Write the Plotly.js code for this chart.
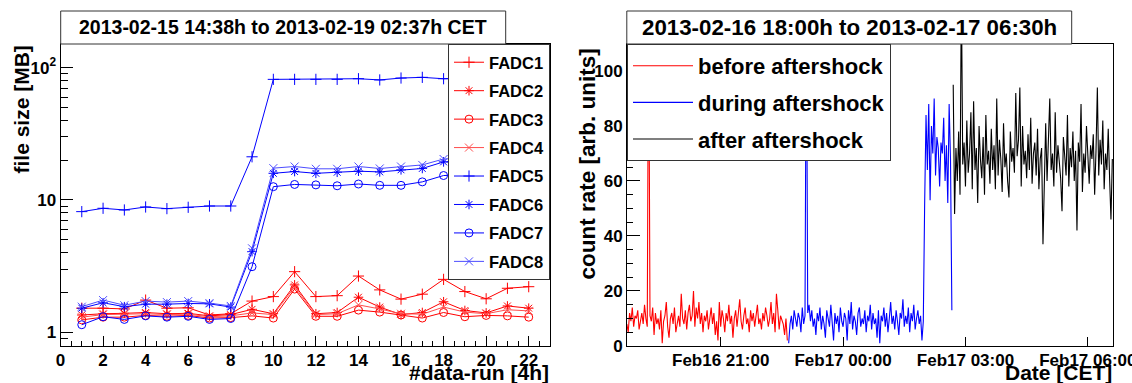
<!DOCTYPE html>
<html><head><meta charset="utf-8">
<script src="https://cdn.plot.ly/plotly-3.0.1.min.js"></script>
<style>html,body{margin:0;padding:0;background:#fff}#plot{width:1132px;height:383px}</style>
</head><body><div id="plot"></div>
<script>
// ---------- Left panel data: file size per 4h data run ----------
const runs = [1,2,3,4,5,6,7,8,9,10,11,12,13,14,15,16,17,18,19,20,21,22];
const fadcNames = ['FADC1','FADC2','FADC3','FADC4','FADC5','FADC6','FADC7','FADC8'];
const fadc1 = [1.52,1.52,1.50,1.75,1.52,1.53,1.35,1.38,1.72,1.86,2.87,1.86,1.89,2.66,2.09,1.78,1.94,2.51,2.03,1.79,2.15,2.21];
const fadc2 = [1.35,1.38,1.39,1.41,1.38,1.39,1.33,1.36,1.49,1.38,2.28,1.38,1.41,1.84,1.55,1.36,1.41,1.70,1.46,1.40,1.58,1.52];
const fadc3 = [1.24,1.30,1.30,1.34,1.32,1.34,1.28,1.29,1.33,1.28,2.12,1.32,1.32,1.47,1.42,1.35,1.28,1.41,1.31,1.34,1.33,1.30];
const fadc4 = [1.30,1.36,1.37,1.38,1.36,1.37,1.31,1.33,1.40,1.36,2.20,1.36,1.38,1.61,1.50,1.38,1.37,1.55,1.42,1.38,1.48,1.45];
const fadc5 = [8.16,8.65,8.40,8.85,8.60,8.80,9.00,9.00,21.2,81.6,81.6,81.6,81.6,82.5,80.8,83.5,84.5,82.5,83.5,84.0,83.0,84.0];
const fadc6 = [1.52,1.67,1.56,1.63,1.63,1.65,1.64,1.55,4.07,15.9,16.4,15.9,16.2,16.5,16.3,16.9,17.3,19.4,19.8,20.0,20.3,20.5];
const fadc7 = [1.14,1.31,1.25,1.33,1.30,1.32,1.25,1.27,3.13,12.6,13.1,13.0,12.8,13.2,12.9,12.9,13.7,15.3,15.5,15.6,15.8,16.0];
const fadc8 = [1.56,1.75,1.60,1.72,1.69,1.72,1.66,1.58,4.31,17.4,17.9,17.2,17.2,17.9,17.3,17.9,18.4,20.4,20.8,21.0,21.2,21.5];
const fadcColors = ['#ff0000','#ff0000','#ff0000','#ff4d4d','#0000ff','#0000ff','#0000ff','#4d4dff'];
const fadcSymbols = ['cross-thin-open','asterisk-open','circle-open','x-thin-open','cross-thin-open','asterisk-open','circle-open','x-thin-open'];

// ---------- Right panel data: count rate, 2-minute bins ----------
const rateStart = '2013-02-16T18:42:00';
const binMinutes = 2;
const rateBefore = [
 8,5,12,9,14,7,11,10,13,6,9,12,8,15,10,7,130,11,9,14,
 4,12,8,10,6,13,1,9,11,16,7,3,10,12,8,14,5,9,11,7,
 19,10,8,13,6,12,15,9,11,20,7,14,10,16,8,12,5,11,9,13,
 6,10,14,8,12,4,9,2,16,7,13,10,5,12,9,15,8,11,3,10,
 13,7,12,17,9,6,11,14,8,10,5,13,9,12,7,11,15,8,10,6,
 12,9,14,11,7,10,16,8,12,5,19,13,6,11,9,8,4,10,2];
const rateDuring = [
 1,8,11,6,13,9,7,12,10,5,14,8,11,130,12,15,9,13,7,10,
 4,12,9,14,6,11,8,3,13,10,7,15,9,2,12,8,11,5,14,9,
 7,12,10,2,13,8,16,6,11,9,4,12,14,7,10,8,13,5,11,9,
 15,6,12,8,10,3,13,1,11,9,14,7,12,5,10,16,8,11,6,13,
 9,4,12,10,17,7,11,8,14,5,12,9,15,6,10,13,8,11,2,9,
 52,84,64,88,53,80,70,90,62,76,72,58,74,70,83,60,73,52,88,68,13];
const rateAfter = [
 95,48,72,60,78,55,130,66,74,58,82,63,70,85,57,89,64,72,52,80,
 68,61,76,55,84,66,71,59,79,64,73,57,90,62,75,68,56,81,65,70,
 60,54,78,67,72,63,92,69,75,94,58,80,66,71,61,77,64,83,59,70,
 74,62,79,57,68,72,37,66,81,60,75,90,64,70,58,85,63,73,67,61,
 49,76,69,62,84,58,72,65,78,60,71,42,74,67,88,56,70,63,80,66,
 59,73,68,77,55,71,94,62,75,66,82,57,70,64,79,61,46,68];
const segNames = ['before aftershock','during aftershock','after aftershock'];
const segColors = ['#ff0000','#0000ff','#000000'];

// ---------- helpers ----------
const W = 1132, H = 383;
const px = x => x / W, py = y => 1 - y / H;
const FONT = 'Liberation Sans, Arial, Helvetica, sans-serif';
const pad2 = n => String(n).padStart(2,'0');
function binTimes(offset, n) {
  const t0 = new Date(rateStart + 'Z').getTime();
  const out = [];
  for (let i = 0; i < n; i++) {
    const d = new Date(t0 + (offset + i) * binMinutes * 60000);
    out.push(d.getUTCFullYear()+'-'+pad2(d.getUTCMonth()+1)+'-'+pad2(d.getUTCDate())+' '+pad2(d.getUTCHours())+':'+pad2(d.getUTCMinutes()));
  }
  return out;
}

const traces = [];
const fadcData = [fadc1,fadc2,fadc3,fadc4,fadc5,fadc6,fadc7,fadc8];
fadcData.forEach((ys, i) => {
  traces.push({
    x: runs, y: ys, type: 'scatter', mode: 'lines+markers', name: fadcNames[i],
    xaxis: 'x', yaxis: 'y', legend: 'legend', legendgroup: 'f'+i,
    line: {color: fadcColors[i], width: 1},
    marker: {symbol: fadcSymbols[i], size: 8, color: fadcColors[i], line: {color: fadcColors[i], width: 1}}
  });
});
const segs = [rateBefore, rateDuring, rateAfter];
let off = 0;
segs.forEach((ys, i) => {
  traces.push({
    x: binTimes(off, ys.length), y: ys, type: 'scatter', mode: 'lines', name: segNames[i],
    xaxis: 'x2', yaxis: 'y2', legend: 'legend2', legendgroup: 's'+i,
    line: {color: segColors[i], width: 1.1}
  });
  off += ys.length;
});

const tickFont = {family: FONT, size: 17, color: '#000', weight: 'bold'};
const layout = {
  width: W, height: H, margin: {l:0, r:0, t:0, b:0},
  paper_bgcolor: '#fff', plot_bgcolor: '#fff', showlegend: true,
  xaxis: {
    domain: [px(60.5), px(550)], anchor: 'y', range: [0, 23],
    tick0: 0, dtick: 2, ticks: 'inside', ticklen: 10, tickcolor: '#000', tickwidth: 1,
    minor: {dtick: 0.5, ticks: 'inside', ticklen: 5, tickcolor: '#000', showgrid: false},
    showline: true, mirror: true, linecolor: '#000', linewidth: 1, ticklabelstandoff: -1,
    showgrid: false, zeroline: false, tickfont: tickFont
  },
  yaxis: {
    domain: [py(346), py(44)], anchor: 'x', type: 'log', range: [-0.104, 2.179],
    tickmode: 'array', tickvals: [1, 10, 100], ticktext: ['1', '10', '10<sup>2</sup>'],
    ticks: 'inside', ticklen: 12, tickcolor: '#000', tickwidth: 1,
    minor: {dtick: 'D1', ticks: 'inside', ticklen: 7, tickcolor: '#000', showgrid: false},
    showline: true, mirror: true, linecolor: '#000', linewidth: 1,
    showgrid: false, zeroline: false, tickfont: tickFont
  },
  xaxis2: {
    domain: [px(627), px(1113)], anchor: 'y2', type: 'date',
    range: ['2013-02-16 18:42:12', '2013-02-17 06:37:00'],
    tick0: '2013-02-16 21:00', dtick: 3*3600*1000, tickformat: '%b%d %H:%M',
    ticks: 'inside', ticklen: 9, tickcolor: '#000', tickwidth: 1, ticklabeloverflow: 'allow',
    showline: true, mirror: true, linecolor: '#000', linewidth: 1, ticklabelstandoff: -1,
    showgrid: false, zeroline: false, tickfont: tickFont
  },
  yaxis2: {
    domain: [py(346), py(44)], anchor: 'x2', range: [0, 109.8],
    tick0: 0, dtick: 20, ticks: 'inside', ticklen: 13, tickcolor: '#000', tickwidth: 1,
    minor: {dtick: 5, ticks: 'inside', ticklen: 6, tickcolor: '#000', showgrid: false},
    showline: true, mirror: true, linecolor: '#000', linewidth: 1,
    showgrid: false, zeroline: false, tickfont: tickFont
  },
  legend: {
    x: px(550), xanchor: 'right', y: py(44), yanchor: 'top',
    bgcolor: '#fff', bordercolor: '#333', borderwidth: 1, tracegroupgap: 4,
    font: {family: FONT, size: 16.5, color: '#000', weight: 'bold'}
  },
  legend2: {
    x: px(627), xanchor: 'left', y: py(44), yanchor: 'top', itemwidth: 60, entrywidth: 262,
    bgcolor: '#fff', bordercolor: '#333', borderwidth: 1, tracegroupgap: 5,
    font: {family: FONT, size: 22, color: '#000', weight: 'bold'}
  },
  shapes: [
    {type:'rect', xref:'paper', yref:'paper', x0:px(60.7), x1:px(505.7), y0:py(44), y1:py(11), line:{color:'#333', width:1}, fillcolor:'#fff'},
    {type:'rect', xref:'paper', yref:'paper', x0:px(626.8), x1:px(1071.7), y0:py(44), y1:py(11), line:{color:'#333', width:1}, fillcolor:'#fff'}
  ],
  annotations: [
    {text:'2013-02-15 14:38h to 2013-02-19 02:37h CET', xref:'paper', yref:'paper', x:px(283.2), y:py(27.5), xanchor:'center', yanchor:'middle', showarrow:false, font:{family:FONT, size:19.5, color:'#000', weight:'bold'}},
    {text:'2013-02-16 18:00h to 2013-02-17 06:30h', xref:'paper', yref:'paper', x:px(849.2), y:py(27.5), xanchor:'center', yanchor:'middle', showarrow:false, font:{family:FONT, size:22.3, color:'#000', weight:'bold'}},
    {text:'file size [MB]', xref:'paper', yref:'paper', x:px(20.5), y:py(44), xanchor:'center', yanchor:'top', textangle:-90, showarrow:false, font:{family:FONT, size:21, color:'#000', weight:'bold'}},
    {text:'count rate [arb. units]', xref:'paper', yref:'paper', x:px(587), y:py(47), xanchor:'center', yanchor:'top', textangle:-90, showarrow:false, font:{family:FONT, size:22.5, color:'#000', weight:'bold'}},
    {text:'#data-run [4h]', xref:'paper', yref:'paper', x:px(551), y:py(372.5), xanchor:'right', yanchor:'middle', showarrow:false, font:{family:FONT, size:21, color:'#000', weight:'bold'}},
    {text:'Date [CET]', xref:'paper', yref:'paper', x:px(1114), y:py(372.5), xanchor:'right', yanchor:'middle', showarrow:false, font:{family:FONT, size:21, color:'#000', weight:'bold'}}
  ]
};
Plotly.newPlot('plot', traces, layout, {staticPlot: true, displayModeBar: false});
</script>
</body></html>
